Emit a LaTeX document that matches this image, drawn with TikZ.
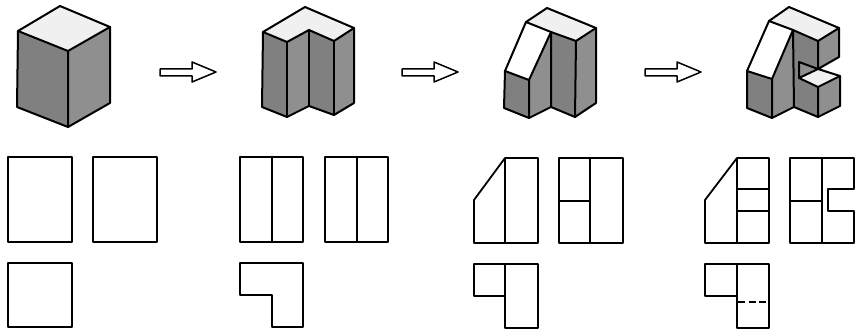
\documentclass[tikz,border=0pt]{standalone}
\usetikzlibrary{calc}
\definecolor{darkface}{gray}{0.5}
\definecolor{midface}{gray}{0.56}
\definecolor{lightface}{gray}{0.94}
\tikzset{
    outline/.style={line width=2pt,black,line join=round,line cap=round},
    viewline/.style={line width=1.8pt,black,line join=round,line cap=round},
    flowarrow/.style={line width=1.5pt,black,fill=white,line join=round},
}
\begin{document}
\begin{tikzpicture}[x=1pt,y=-1pt]
    \useasboundingbox (0,0) rectangle (855,329);
    % first solid
    \fill[lightface] (60,6) -- (110,27) -- (68,51) -- (18,31) -- cycle;
    \fill[darkface] (18,31) -- (68,51) -- (68,127) -- (17,107) -- cycle;
    \fill[midface] (68,51) -- (110,27) -- (110,103) -- (68,127) -- cycle;
    \draw[outline] (60,6) -- (110,27) -- (110,103) -- (68,127) -- (17,107) -- (18,31) -- cycle;
    \draw[outline] (18,31) -- (68,51) -- (110,27) (68,51) -- (68,127);
    % second solid
    \fill[lightface] (305,7) -- (354,28) -- (334,41) -- (309,30) -- (287,42) -- (263,32) -- cycle;
    \fill[darkface] (263,32) -- (287,42) -- (287,117) -- (262,107) -- cycle;
    \fill[midface] (287,42) -- (309,30) -- (309,106) -- (287,117) -- cycle;
    \fill[darkface] (309,30) -- (334,41) -- (334,115) -- (309,106) -- cycle;
    \fill[midface] (334,41) -- (354,28) -- (354,103) -- (334,115) -- cycle;
    \draw[outline] (305,7) -- (354,28) -- (354,103) -- (334,115) -- (309,106) -- (287,117) -- (262,107) -- (263,32) -- cycle;
    \draw[outline] (263,32) -- (287,42) -- (309,30) -- (334,41) -- (354,28);
    \draw[outline] (287,42) -- (287,117) (309,30) -- (309,106) (334,41) -- (334,115);
    % third solid
    \fill[lightface] (547,8) -- (596,28) -- (576,41) -- (551,32) -- (526,22) -- cycle;
    \fill[white] (526,22) -- (551,32) -- (529,80) -- (505,71) -- cycle;
    \fill[darkface] (505,71) -- (529,80) -- (529,118) -- (504,108) -- cycle;
    \fill[midface] (529,80) -- (551,32) -- (551,107) -- (529,118) -- cycle;
    \fill[darkface] (551,32) -- (576,41) -- (575,117) -- (551,107) -- cycle;
    \fill[midface] (576,41) -- (596,28) -- (596,103) -- (575,117) -- cycle;
    \draw[outline] (547,8) -- (596,28) -- (596,103) -- (575,117) -- (551,107) -- (529,118) -- (504,108) -- (505,71) -- (526,22) -- cycle;
    \draw[outline] (526,22) -- (551,32) -- (576,41) -- (596,28);
    \draw[outline] (505,71) -- (529,80) -- (551,32) -- (551,107) (529,80) -- (529,118) (576,41) -- (575,117);
    % fourth solid
    \fill[lightface] (789,7) -- (839,28) -- (818,41) -- (793,30) -- (769,21) -- cycle;
    \fill[white] (769,21) -- (793,30) -- (772,79) -- (747,71) -- cycle;
    \fill[darkface] (747,71) -- (772,79) -- (772,118) -- (747,108) -- cycle;
    \fill[midface] (772,79) -- (793,30) -- (794,107) -- (772,118) -- cycle;
    \fill[darkface] (793,30) -- (818,41) -- (818,69) -- (799,62) -- (799,78) -- (818,87) -- (818,117) -- (794,107) -- cycle;
    \fill[midface] (818,41) -- (839,28) -- (839,57) -- (818,69) -- cycle;
    \fill[midface] (799,62) -- (818,69) -- (799,78) -- cycle;
    \fill[lightface] (799,78) -- (818,69) -- (840,76) -- (818,87) -- cycle;
    \fill[midface] (818,87) -- (840,76) -- (840,106) -- (818,117) -- cycle;
    \draw[outline] (789,7) -- (839,28) -- (839,57) -- (818,69) -- (840,76) -- (840,106) -- (818,117) -- (794,107) -- (772,118) -- (747,108) -- (747,71) -- (769,21) -- cycle;
    \draw[outline] (769,21) -- (793,30) -- (818,41) -- (839,28);
    \draw[outline] (747,71) -- (772,79) -- (793,30) -- (794,107) (772,79) -- (772,118);
    \draw[outline] (818,41) -- (818,69) -- (799,62) -- (799,78) -- (818,69);
    \draw[outline] (799,78) -- (818,87) -- (840,76) (818,87) -- (818,117);
    % arrows between the solids
    \foreach \dx in {0,242,485}
        \draw[flowarrow,shift={(\dx,0)}] (160,69) -- (192,69) -- (192,62) -- (216,72) -- (192,82) -- (192,76) -- (160,76) -- cycle;
    % views of the first solid
    \draw[viewline] (8,157) rectangle (72,242);
    \draw[viewline] (93,157) rectangle (157,242);
    \draw[viewline] (8,263) rectangle (72,327);
    % views of the second solid
    \draw[viewline] (240,157) rectangle (303,242) (272,157) -- (272,242);
    \draw[viewline] (325,157) rectangle (388,242) (357,157) -- (357,242);
    \draw[viewline] (240,263) -- (303,263) -- (303,327) -- (272,327) -- (272,295) -- (240,295) -- cycle;
    % views of the third solid
    \draw[viewline] (505,158) -- (538,158) -- (538,243) -- (474,243) -- (474,200) -- cycle (505,158) -- (505,243);
    \draw[viewline] (559,158) rectangle (623,243) (590,158) -- (590,243) (559,201) -- (590,201);
    \draw[viewline] (474,264) -- (538,264) -- (538,328) -- (505,328) -- (505,296) -- (474,296) -- cycle (505,264) -- (505,296);
    % views of the fourth solid
    \draw[viewline] (737,158) -- (769,158) -- (769,243) -- (705,243) -- (705,200) -- cycle (737,158) -- (737,243);
    \draw[viewline] (737,189) -- (769,189) (737,211) -- (769,211);
    \draw[viewline] (790,158) -- (854,158) -- (854,189) -- (828,189) -- (828,211) -- (854,211) -- (854,243) -- (790,243) -- cycle;
    \draw[viewline] (822,158) -- (822,243) (790,201) -- (822,201);
    \draw[viewline] (705,264) -- (769,264) -- (769,328) -- (737,328) -- (737,296) -- (705,296) -- cycle (737,264) -- (737,296);
    \draw[viewline,line cap=butt,dash pattern=on 7pt off 3.5pt,line width=1.2pt] (738,302) -- (769,302);
\end{tikzpicture}
\end{document}
